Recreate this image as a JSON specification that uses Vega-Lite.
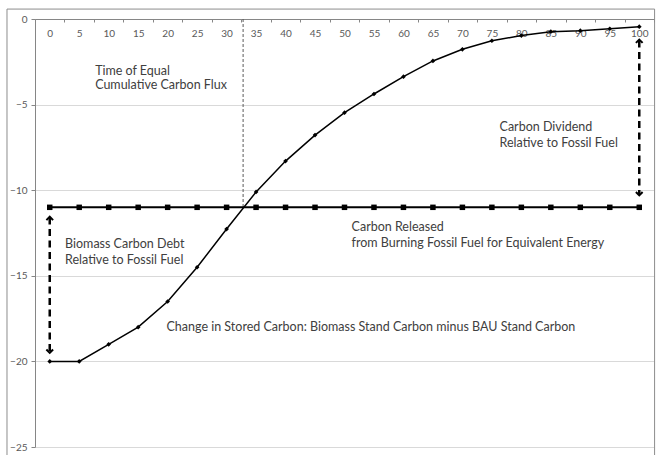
{
  "$schema": "https://vega.github.io/schema/vega-lite/v6.json",
  "width": 619,
  "height": 428,
  "autosize": "none",
  "padding": {"left": 35, "top": 19, "right": 3, "bottom": 8},
  "background": "white",
  "config": {
    "view": {"stroke": null},
    "font": "Lato",
    "axis": {"labelFont": "Lato"}
  },
  "datasets": {
    "biomass": [
      {"x": 0, "y": -20}, {"x": 5, "y": -20}, {"x": 10, "y": -19}, {"x": 15, "y": -18},
      {"x": 20, "y": -16.5}, {"x": 25, "y": -14.5}, {"x": 30, "y": -12.27}, {"x": 35, "y": -10.1},
      {"x": 40, "y": -8.3}, {"x": 45, "y": -6.78}, {"x": 50, "y": -5.47}, {"x": 55, "y": -4.38},
      {"x": 60, "y": -3.37}, {"x": 65, "y": -2.45}, {"x": 70, "y": -1.77}, {"x": 75, "y": -1.27},
      {"x": 80, "y": -0.97}, {"x": 85, "y": -0.74}, {"x": 90, "y": -0.68}, {"x": 95, "y": -0.57},
      {"x": 100, "y": -0.45}
    ],
    "fossil": [
      {"x": 0, "y": -11}, {"x": 5, "y": -11}, {"x": 10, "y": -11}, {"x": 15, "y": -11},
      {"x": 20, "y": -11}, {"x": 25, "y": -11}, {"x": 30, "y": -11}, {"x": 35, "y": -11},
      {"x": 40, "y": -11}, {"x": 45, "y": -11}, {"x": 50, "y": -11}, {"x": 55, "y": -11},
      {"x": 60, "y": -11}, {"x": 65, "y": -11}, {"x": 70, "y": -11}, {"x": 75, "y": -11},
      {"x": 80, "y": -11}, {"x": 85, "y": -11}, {"x": 90, "y": -11}, {"x": 95, "y": -11},
      {"x": 100, "y": -11}
    ],
    "frame": [{"x": -7.25, "x2": 102.6, "y": 0.58, "y2": -26}],
    "equal": [{"x": 32.8, "y": 0, "y2": -11}],
    "arrows": [
      {"x": 0, "y": -11.6, "y2": -19.5},
      {"x": 100, "y": -1.25, "y2": -10.25}
    ],
    "heads": [
      {"x": 0, "y": -11.55, "dir": "up"},
      {"x": 0, "y": -19.5, "dir": "down"},
      {"x": 100, "y": -1.2, "dir": "up"},
      {"x": 100, "y": -10.3, "dir": "down"}
    ],
    "notes": [
      {"x": 7.7, "y": -3.04, "label": "Time of Equal"},
      {"x": 7.7, "y": -3.88, "label": "Cumulative Carbon Flux"},
      {"x": 76.3, "y": -6.29, "label": "Carbon Dividend"},
      {"x": 76.3, "y": -7.26, "label": "Relative to Fossil Fuel"},
      {"x": 2.6, "y": -13.14, "label": "Biomass Carbon Debt"},
      {"x": 2.6, "y": -14.08, "label": "Relative to Fossil Fuel"},
      {"x": 51.2, "y": -12.13, "label": "Carbon Released"},
      {"x": 51.2, "y": -13.07, "label": "from Burning  Fossil Fuel for Equivalent Energy"},
      {"x": 19.8, "y": -18.01, "label": "Change in Stored Carbon: Biomass Stand Carbon minus BAU Stand Carbon"}
    ]
  },
  "encoding": {
    "x": {
      "field": "x", "type": "quantitative",
      "scale": {"domain": [-2.5, 102.5], "nice": false, "zero": false},
      "axis": {
        "orient": "bottom", "offset": -428, "title": null, "grid": false,
        "values": [-2.5, 2.5, 7.5, 12.5, 17.5, 22.5, 27.5, 32.5, 37.5, 42.5, 47.5, 52.5, 57.5, 62.5, 67.5, 72.5, 77.5, 82.5, 87.5, 92.5, 97.5, 102.5],
        "labelExpr": "datum.value > 100 ? '' : format(datum.value + 2.5, 'd')",
        "labelOffset": 14.75, "labelFlush": false, "labelOverlap": false,
        "labelFontSize": 10, "labelColor": "#595959", "labelPadding": 6,
        "tickSize": 3, "tickColor": "#868686", "domainColor": "#868686"
      }
    },
    "y": {
      "field": "y", "type": "quantitative",
      "scale": {"domain": [-25, 0], "nice": false, "zero": false},
      "axis": {
        "title": null, "values": [0, -5, -10, -15, -20, -25],
        "grid": true, "gridColor": "#d9d9d9",
        "labelFontSize": 10, "labelColor": "#595959", "labelPadding": 4,
        "tickSize": 4, "tickColor": "#868686", "domainColor": "#868686"
      }
    }
  },
  "layer": [
    {
      "data": {"name": "frame"},
      "mark": {"type": "rect", "fill": "transparent", "stroke": "#8c8c8c", "strokeWidth": 1},
      "encoding": {"x2": {"field": "x2"}, "y2": {"field": "y2"}}
    },
    {
      "data": {"name": "equal"},
      "mark": {"type": "rule", "color": "#595959", "strokeWidth": 1, "strokeDash": [3, 2]},
      "encoding": {"y2": {"field": "y2"}}
    },
    {
      "data": {"name": "fossil"},
      "mark": {"type": "line", "color": "black", "strokeWidth": 2,
        "point": {"shape": "square", "size": 30, "filled": true, "color": "black"}}
    },
    {
      "data": {"name": "biomass"},
      "mark": {"type": "line", "color": "black", "strokeWidth": 1.5,
        "point": {"shape": "diamond", "size": 22, "filled": true, "color": "black"}}
    },
    {
      "data": {"name": "arrows"},
      "mark": {"type": "rule", "color": "black", "strokeWidth": 2.5, "strokeDash": [7, 4.5]},
      "encoding": {"y2": {"field": "y2"}}
    },
    {
      "data": {"name": "heads"},
      "mark": {"type": "point", "filled": false, "stroke": "black", "strokeWidth": 2, "size": 45, "opacity": 1},
      "encoding": {
        "shape": {"field": "dir", "type": "nominal", "legend": null,
          "scale": {"domain": ["up", "down"], "range": ["M-1,1L0,0L1,1", "M-1,-1L0,0L1,-1"]}}
      }
    },
    {
      "data": {"name": "notes"},
      "mark": {"type": "text", "align": "left", "baseline": "middle", "fontSize": 12.5, "color": "#404040", "font": "Lato"},
      "encoding": {"text": {"field": "label"}}
    }
  ]
}
